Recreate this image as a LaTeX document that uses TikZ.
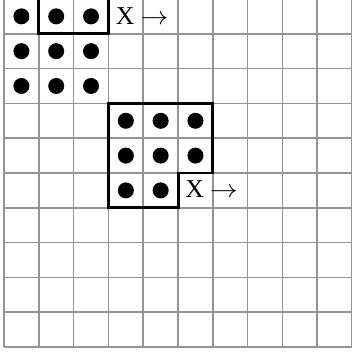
\documentclass[tikz,border=0pt]{standalone}
\usepackage{graphicx}
\usepackage{fontspec}
\setmainfont{Liberation Serif}
\begin{document}
\begin{tikzpicture}[x=1cm,y=1cm,
  gridline/.style={draw=black!42, line width=1.3pt},
  boxline/.style={draw=black, line width=2.4pt, line join=miter},
  dot/.style={circle, fill=black, inner sep=0pt, minimum size=0.46cm},
  mover/.style={anchor=base west, inner sep=0pt, font=\fontsize{21}{24}\selectfont}]
\useasboundingbox (-0.115,-0.2) rectangle (9.971,9.97);
\fill[white] (-0.115,-0.2) rectangle (9.971,9.97);
\draw[gridline] (0,0) grid (10,10);
% dots top-left block
\foreach \r in {0,1,2}{
  \foreach \c in {0,1,2}{
    \node[dot] (a\r\c) at (\c+0.5, 9.5-\r) {};
  }
}
% dots lower block
\foreach \r/\c in {3/3,3/4,3/5,4/3,4/4,4/5,5/3,5/4}{
  \node[dot] (b\r\c) at (\c+0.5, 9.5-\r) {};
}
% boxes
\draw[boxline] (1,9) rectangle (3,10);
\draw[boxline] (3,7) -- (6,7) -- (6,5) -- (5,5) -- (5,4) -- (3,4) -- cycle;
% labels
\node[mover] (t1) at (3.21,9.27) {X\hspace{5pt}\scalebox{1.1}[1]{$\rightarrow$}};
\node[mover] (t2) at (5.2,4.3) {X\hspace{5pt}\scalebox{1.1}[1]{$\rightarrow$}};
\end{tikzpicture}
\end{document}
